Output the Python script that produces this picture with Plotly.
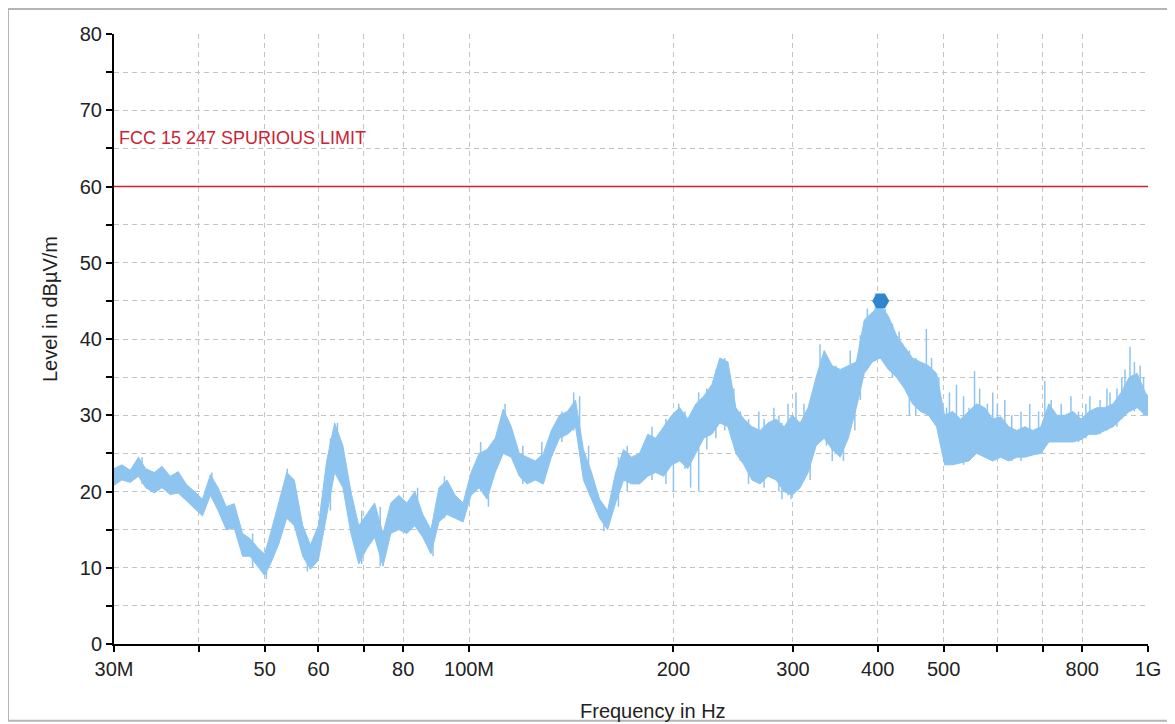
import plotly.graph_objects as go

# ---------------- data (MHz, dBuV/m) ----------------
freq_mhz = [30.0, 30.8, 31.7, 32.6, 33.4, 34.4, 35.3, 36.3, 37.3, 38.3, 39.4, 40.5, 41.6, 42.7, 43.9,
            45.1, 46.4, 47.6, 49.0, 50.0, 51.0, 52.4, 53.9, 55.3, 56.9, 58.4, 60.0, 61.7, 63.4, 65.2,
            67.0, 68.8, 70.7, 72.6, 74.7, 76.7, 78.8, 81.0, 83.2, 85.5, 87.9, 90.3, 92.8, 95.4, 98.0,
            100.7, 103.5, 106.3, 109.3, 112.3, 115.4, 118.6, 121.8, 125.2, 128.7, 132.2, 135.9, 139.6,
            143.5, 147.4, 151.5, 155.7, 160.0, 164.4, 168.9, 173.6, 178.3, 183.3, 188.3, 193.5, 198.9,
            204.3, 210.0, 215.8, 221.7, 227.8, 234.1, 240.6, 247.2, 254.0, 261.1, 268.3, 275.7, 283.3,
            291.1, 299.1, 307.4, 315.8, 324.5, 333.5, 342.7, 352.2, 361.9, 371.9, 382.1, 392.7, 403.5,
            414.6, 426.1, 437.8, 449.9, 462.3, 475.1, 488.2, 501.7, 515.5, 529.7, 544.3, 559.4, 574.8,
            590.7, 607.0, 623.7, 640.9, 658.6, 676.8, 695.4, 714.6, 734.3, 754.6, 775.4, 796.8, 818.8,
            841.4, 864.6, 888.5, 913.0, 938.2, 964.1, 990.7, 1000.0]

level_upper = [23.0, 23.5, 22.8, 24.5, 23.0, 22.5, 23.3, 22.0, 22.6, 21.0, 20.0, 19.0, 22.2, 20.5, 18.0,
               18.4, 14.5, 13.8, 12.5, 11.8, 14.5, 18.5, 22.5, 21.5, 15.5, 13.0, 15.5, 24.0, 29.0, 26.0,
               20.0, 15.5, 17.0, 18.5, 14.5, 18.5, 19.5, 18.5, 20.0, 17.0, 15.0, 20.5, 21.5, 19.5, 18.5,
               22.5, 25.0, 25.5, 27.0, 30.8, 28.5, 25.0, 24.5, 24.0, 25.0, 28.0, 30.0, 30.5,
               32.0, 25.5, 22.5, 19.0, 17.5, 22.5, 25.5, 24.5, 25.0, 27.5, 27.0, 28.5, 30.0,
               31.0, 29.5, 31.5, 32.5, 34.0, 37.5, 37.0, 31.0, 29.5, 28.5, 28.0, 29.0, 29.5,
               28.5, 30.0, 29.0, 31.0, 35.0, 38.5, 36.5, 36.0, 36.5, 37.0, 42.5, 43.5, 44.5,
               43.0, 40.5, 39.0, 37.5, 37.0, 36.5, 35.5, 30.0, 30.5, 29.5, 30.5, 31.5, 31.0,
               29.5, 29.8, 28.5, 28.0, 28.5, 28.0, 28.5, 31.5, 30.0, 30.0, 30.5, 29.5, 30.5,
               31.0, 31.0, 31.5, 33.0, 35.0, 35.5, 33.0, 32.5]

level_lower = [20.8, 21.5, 21.2, 22.0, 20.5, 19.8, 20.5, 19.6, 19.8, 18.8, 17.8, 16.8, 19.5, 17.5, 15.0,
               15.2, 11.5, 11.5, 10.0, 9.0, 10.5, 13.0, 16.5, 15.5, 11.5, 9.8, 11.0, 17.0, 22.5, 20.5,
               14.5, 10.5, 12.5, 14.0, 10.2, 14.5, 15.0, 14.5, 15.5, 14.0, 11.8, 16.0, 17.0, 16.5, 16.0,
               19.5, 20.5, 19.0, 22.5, 25.0, 24.5, 22.0, 21.0, 21.5, 21.0, 24.5, 27.0, 27.5,
               28.5, 21.5, 19.0, 16.5, 15.0, 18.5, 21.5, 21.0, 21.0, 22.0, 22.5, 22.0, 23.5,
               24.0, 23.0, 25.0, 27.0, 27.5, 29.0, 28.5, 25.0, 23.5, 21.5, 21.0, 22.0, 21.5,
               20.0, 19.5, 20.5, 22.5, 26.0, 27.0, 25.5, 24.5, 27.0, 31.0, 35.5, 37.0, 37.5,
               36.0, 35.0, 33.5, 31.5, 30.5, 30.0, 28.5, 23.5, 23.5, 23.8, 24.0, 25.0, 24.5,
               24.0, 24.5, 24.0, 24.5, 24.5, 24.8, 25.0, 26.5, 26.5, 26.5, 26.5, 26.8, 27.5,
               27.5, 28.0, 28.5, 29.5, 30.5, 31.0, 30.0, 30.0]

spike_freq = [33.0, 41.8, 48.0, 50.3, 54.0, 57.8, 62.5, 64.0, 69.5, 74.0, 84.0, 88.5, 92.0,
              104.0, 106.8, 113.0, 120.0, 128.0, 137.0, 142.6, 145.5, 150.0, 158.0, 166.0, 171.0,
              186.0, 195.0, 200.0, 203.6, 208.0, 212.0, 217.9, 224.0, 231.0, 238.0, 245.5, 251.0,
              258.0, 267.2, 272.0, 281.2, 286.0, 289.0, 295.0, 298.0, 303.1, 311.4, 318.0, 328.8,
              336.0, 342.7, 347.0, 356.0, 364.3, 370.0, 377.0, 386.1, 396.7, 410.0, 420.3, 430.0,
              445.2, 455.0, 471.6, 480.0, 492.0, 505.0, 510.0, 522.3, 535.0, 545.0, 555.3, 565.0,
              580.0, 590.7, 600.0, 615.3, 630.0, 650.0, 669.6, 690.0, 704.7, 720.0, 745.0, 770.0,
              790.0, 810.0, 821.1, 850.0, 870.0, 879.0, 900.0, 915.0, 924.9, 940.8, 955.0, 973.8,
              985.0]
spike_high = [24.5, 22.5, 14.5, 12.5, 23.0, 14.0, 27.0, 29.0, 17.5, 18.0, 20.5, 14.5, 22.0,
              26.5, 25.0, 31.5, 26.0, 26.5, 30.5, 33.0, 32.5, 26.0, 17.5, 24.5, 26.0,
              28.5, 29.5, 28.0, 31.5, 30.5, 29.0, 33.0, 33.5, 36.0, 37.5, 33.5, 30.5,
              29.5, 30.5, 29.5, 31.0, 30.0, 29.0, 31.5, 28.5, 33.0, 31.5, 30.0, 39.3,
              37.5, 35.0, 36.5, 35.5, 38.5, 36.0, 40.5, 44.0, 46.0, 44.0, 42.0, 41.0,
              38.5, 37.5, 41.3, 37.5, 35.0, 31.0, 33.0, 34.0, 32.5, 31.0, 35.8, 33.5,
              31.5, 33.0, 31.5, 32.0, 30.0, 30.5, 31.5, 30.5, 34.5, 32.0, 31.5, 32.5,
              30.5, 31.5, 32.5, 32.0, 33.5, 33.0, 33.5, 35.0, 36.0, 39.0, 37.0, 36.5,
              35.0]
spike_low = [21.0, 19.5, 10.0, 8.5, 16.5, 9.5, 17.5, 23.0, 10.5, 10.2, 15.0, 11.5, 16.5,
             20.0, 18.0, 25.0, 21.0, 21.0, 26.5, 28.0, 27.0, 20.0, 14.8, 18.0, 20.0,
             21.5, 21.0, 20.0, 24.0, 23.0, 20.5, 20.0, 25.5, 27.0, 28.0, 27.0, 24.0,
             21.0, 22.0, 20.5, 22.0, 20.0, 19.0, 19.5, 19.0, 21.0, 22.0, 21.5, 27.0,
             26.0, 24.0, 25.0, 24.0, 28.0, 28.0, 32.0, 36.0, 38.0, 37.5, 35.0, 34.5,
             30.0, 30.0, 31.0, 29.5, 28.0, 23.5, 24.0, 24.0, 23.5, 24.0, 25.5, 25.0,
             24.5, 24.5, 24.5, 24.5, 24.0, 24.0, 25.0, 25.0, 26.0, 26.5, 26.5, 26.5,
             26.5, 27.0, 27.5, 27.5, 28.0, 28.5, 28.5, 29.5, 30.0, 30.5, 30.5, 31.0,
             30.0]

limit_freq = [30, 1000]
limit_level = [60, 60]
limit_label = "FCC 15 247 SPURIOUS LIMIT"

peak_freq = [404]
peak_level = [45]

x_tickvals = [30, 40, 50, 60, 70, 80, 100, 200, 300, 400, 500, 600, 700, 800, 1000]
x_ticktext = ["30M", "", "50", "60", "", "80", "100M", "200", "300", "400", "500", "", "", "800", "1G"]
y_tickvals = [0, 5, 10, 15, 20, 25, 30, 35, 40, 45, 50, 55, 60, 65, 70, 75, 80]
y_ticktext = ["0", "", "10", "", "20", "", "30", "", "40", "", "50", "", "60", "", "70", "", "80"]

# ---------------- figure ----------------
TRACE = "#8ec4f0"
FONT = "Liberation Sans, Arial, sans-serif"

fig = go.Figure()

# lower envelope then upper envelope filled between
fig.add_trace(go.Scatter(x=freq_mhz, y=level_lower, mode="lines",
                         line=dict(color=TRACE, width=1), hoverinfo="skip", showlegend=False))
fig.add_trace(go.Scatter(x=freq_mhz, y=level_upper, mode="lines", fill="tonexty",
                         fillcolor=TRACE, line=dict(color=TRACE, width=1),
                         hoverinfo="skip", showlegend=False))

# vertical spikes
sx, sy = [], []
for f, h, l in zip(spike_freq, spike_high, spike_low):
    sx += [f, f, None]
    sy += [l, h, None]
fig.add_trace(go.Scatter(x=sx, y=sy, mode="lines", line=dict(color=TRACE, width=1.5),
                         hoverinfo="skip", showlegend=False))

# limit line
fig.add_trace(go.Scatter(x=limit_freq, y=limit_level, mode="lines",
                         line=dict(color="#cc2233", width=1.6), showlegend=False))

# peak marker
fig.add_trace(go.Scatter(x=peak_freq, y=peak_level, mode="markers",
                         marker=dict(symbol="hexagon2", size=17, color="#2f86cc",
                                     line=dict(width=0)), showlegend=False))

grid = dict(showgrid=True, gridcolor="#c4c4c4", gridwidth=1, griddash="5px,4px")

fig.update_layout(
    width=1167, height=716,
    margin=dict(l=106, r=27, t=26, b=80),
    paper_bgcolor="white", plot_bgcolor="white",
    font=dict(family=FONT, size=20, color="#222222"),
    xaxis=dict(type="log", range=[1.4771213, 3.0], tickvals=x_tickvals, ticktext=x_ticktext,
               ticks="outside", ticklen=6, tickwidth=2, tickcolor="black",
               showline=True, linecolor="black", linewidth=2, zeroline=False,
               tickfont=dict(size=20, family=FONT, color="#222"), **grid),
    yaxis=dict(range=[0, 80], tickvals=y_tickvals, ticktext=y_ticktext,
               ticks="outside", ticklen=6, tickwidth=2, tickcolor="black",
               showline=True, linecolor="black", linewidth=2, zeroline=False,
               tickfont=dict(size=20, family=FONT, color="#222"), **grid),
    xaxis2=dict(type="log", range=[1.4771213, 3.0], overlaying="x", anchor="y", side="bottom",
                tickvals=x_tickvals, showticklabels=False, ticks="inside", ticklen=6,
                tickwidth=2, tickcolor="black", showgrid=False, showline=False, zeroline=False),
    yaxis2=dict(range=[0, 80], overlaying="y", anchor="x", side="left",
                tickvals=y_tickvals, showticklabels=False, ticks="inside", ticklen=6,
                tickwidth=2, tickcolor="black", showgrid=False, showline=False, zeroline=False),
    showlegend=False,
)

fig.add_annotation(x=1.4771213, y=66.3, xref="x", yref="y", text=limit_label,
                   showarrow=False, xanchor="left", yanchor="middle", xshift=3,
                   font=dict(family=FONT, size=18, color="#cc2233"))
fig.add_annotation(x=-0.062, y=0.549, xref="paper", yref="paper", text="Level in dBµV/m",
                   textangle=-90, showarrow=False, xanchor="center", yanchor="middle",
                   font=dict(family=FONT, size=20, color="#222"))
fig.add_annotation(x=0.521, y=-0.11, xref="paper", yref="paper", text="Frequency in Hz",
                   showarrow=False, xanchor="center", yanchor="middle",
                   font=dict(family=FONT, size=20, color="#222"))

# image frame (border of the screenshot)
fig.add_shape(type="rect", xref="paper", yref="paper", x0=-0.1025, x1=1.03, y0=-0.126, y1=1.041,
              line=dict(color="#b5b5b5", width=2), layer="below")

fig.write_html("out.html")
